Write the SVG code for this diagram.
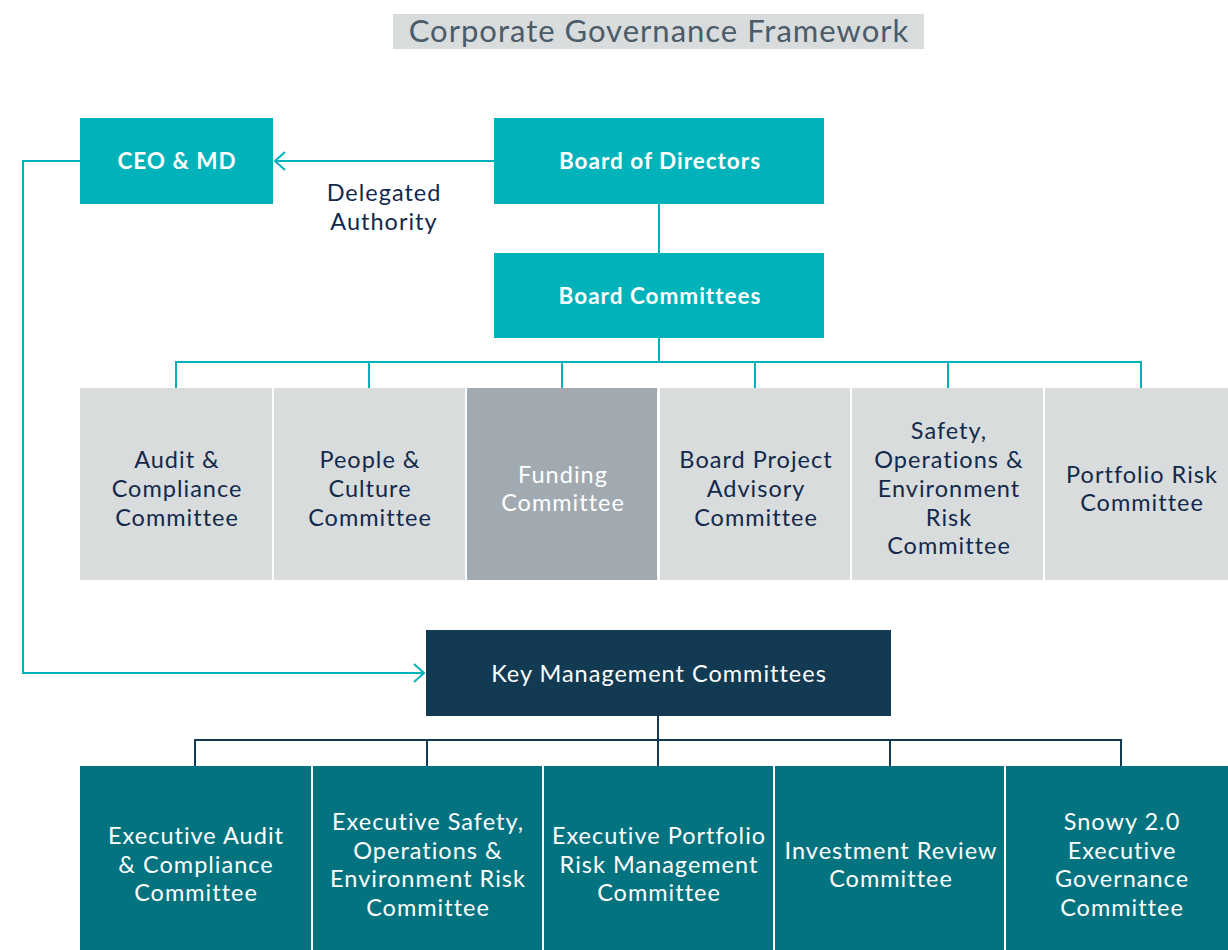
<svg xmlns="http://www.w3.org/2000/svg" width="1228" height="950" viewBox="0 0 1228 950">
<defs>
<style>
text{font-family:Lato,"Open Sans","Liberation Sans",sans-serif;text-anchor:middle}
.t{font-size:31px;letter-spacing:1px;fill:#4b5b68}
.b{font-size:22.5px;letter-spacing:1px;font-weight:bold;fill:#ffffff}
.lbl{font-size:23.5px;letter-spacing:1px;fill:#13294b}
.n{font-size:23.5px;letter-spacing:1px;fill:#13294b}
.w{font-size:23.5px;letter-spacing:1px;fill:#ffffff}
.teal{fill:#00b3bb}
.gray{fill:#d8dcdc}
.dg{fill:#a1aab0}
.navy{fill:#123a52}
.dt{fill:#02737f}
.c1{fill:none;stroke:#00b3bb;stroke-width:2}
.c2{fill:none;stroke:#123a52;stroke-width:2}
</style>
<marker id="ah" viewBox="0 0 12 20" refX="11" refY="10" markerWidth="12" markerHeight="20" markerUnits="userSpaceOnUse" orient="auto">
<path d="M1,1 L11,10 L1,19" fill="none" stroke="#00b3bb" stroke-width="2"/>
</marker>
</defs>
<rect width="1228" height="950" fill="#ffffff"/>
<g id="title">
<rect x="393" y="14" width="531" height="35" fill="#d8dcdc"/>
<text class="t" x="659" y="42">Corporate Governance Framework</text>
</g>
<g id="connectors">
<path class="c1" d="M494,161 H275" marker-end="url(#ah)"/>
<path class="c1" d="M659,204 V253"/>
<path class="c1" d="M659,338 V362 M176,388 V362 H1141 V388 M369,362 V388 M562,362 V388 M755,362 V388 M948,362 V388"/>
<path class="c1" d="M80,161 H23 V673 H424" marker-end="url(#ah)"/>
<path class="c2" d="M658,716 V740 M195,766 V740 H1121 V766 M427,740 V766 M658,740 V766 M890,740 V766"/>
</g>
<g id="delegated-label">
<text class="lbl" x="384" y="201">Delegated</text>
<text class="lbl" x="384" y="230">Authority</text>
</g>
<g id="ceo">
<rect class="teal" x="80" y="118" width="193" height="86"/>
<text class="b" x="177" y="169">CEO &amp; MD</text>
</g>
<g id="board">
<rect class="teal" x="494" y="118" width="330" height="86"/>
<text class="b" x="660" y="169">Board of Directors</text>
</g>
<g id="board-committees">
<rect class="teal" x="494" y="253" width="330" height="85"/>
<text class="b" x="660" y="304">Board Committees</text>
</g>
<g id="audit">
<rect class="gray" x="80" y="388" width="192" height="192"/>
<text class="n" x="177" y="468">Audit &amp;</text>
<text class="n" x="177" y="497">Compliance</text>
<text class="n" x="177" y="526">Committee</text>
</g>
<g id="people">
<rect class="gray" x="274" y="388" width="191" height="192"/>
<text class="n" x="370" y="468">People &amp;</text>
<text class="n" x="370" y="497">Culture</text>
<text class="n" x="370" y="526">Committee</text>
</g>
<g id="funding">
<rect class="dg" x="467" y="388" width="190" height="192"/>
<text class="w" x="563" y="483">Funding</text>
<text class="w" x="563" y="511">Committee</text>
</g>
<g id="project">
<rect class="gray" x="660" y="388" width="190" height="192"/>
<text class="n" x="756" y="468">Board Project</text>
<text class="n" x="756" y="497">Advisory</text>
<text class="n" x="756" y="526">Committee</text>
</g>
<g id="safety">
<rect class="gray" x="852" y="388" width="191" height="192"/>
<text class="n" x="949" y="439">Safety,</text>
<text class="n" x="949" y="468">Operations &amp;</text>
<text class="n" x="949" y="497">Environment</text>
<text class="n" x="949" y="526">Risk</text>
<text class="n" x="949" y="554">Committee</text>
</g>
<g id="portfolio">
<rect class="gray" x="1045" y="388" width="183" height="192"/>
<text class="n" x="1142" y="483">Portfolio Risk</text>
<text class="n" x="1142" y="511">Committee</text>
</g>
<g id="kmc">
<rect class="navy" x="426" y="630" width="465" height="86"/>
<text class="w" x="659" y="682">Key Management Committees</text>
</g>
<g id="exec-audit">
<rect class="dt" x="80" y="766" width="231" height="184"/>
<text class="w" x="196" y="844">Executive Audit</text>
<text class="w" x="196" y="873">&amp; Compliance</text>
<text class="w" x="196" y="901">Committee</text>
</g>
<g id="exec-safety">
<rect class="dt" x="313" y="766" width="229" height="184"/>
<text class="w" x="428" y="830">Executive Safety,</text>
<text class="w" x="428" y="859">Operations &amp;</text>
<text class="w" x="428" y="887">Environment Risk</text>
<text class="w" x="428" y="916">Committee</text>
</g>
<g id="exec-portfolio">
<rect class="dt" x="544" y="766" width="229" height="184"/>
<text class="w" x="659" y="844">Executive Portfolio</text>
<text class="w" x="659" y="873">Risk Management</text>
<text class="w" x="659" y="901">Committee</text>
</g>
<g id="investment">
<rect class="dt" x="775" y="766" width="229" height="184"/>
<text class="w" x="891" y="859">Investment Review</text>
<text class="w" x="891" y="887">Committee</text>
</g>
<g id="snowy">
<rect class="dt" x="1006" y="766" width="222" height="184"/>
<text class="w" x="1122" y="830">Snowy 2.0</text>
<text class="w" x="1122" y="859">Executive</text>
<text class="w" x="1122" y="887">Governance</text>
<text class="w" x="1122" y="916">Committee</text>
</g>
</svg>
